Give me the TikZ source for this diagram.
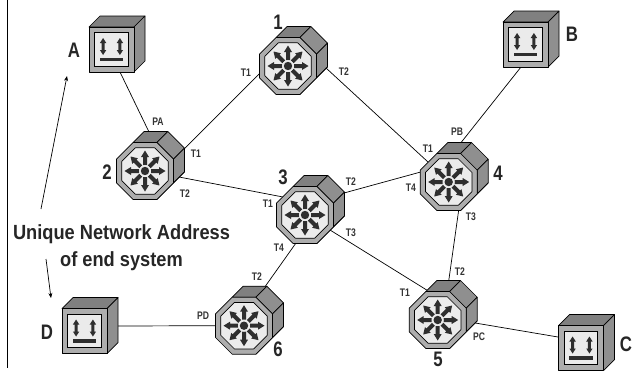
\documentclass[tikz,border=0pt]{standalone}
\usepackage{fontspec}
\setmainfont{Liberation Sans}
\usetikzlibrary{arrows.meta}
\definecolor{facetop}{gray}{0.50}
\definecolor{faceside}{gray}{0.56}
\definecolor{rim}{gray}{0.68}
\definecolor{panel}{gray}{0.92}
\definecolor{ink}{gray}{0.18}
\tikzset{
  x=1pt,y=-1pt,
  anchorpt/.style={circle,inner sep=0pt,minimum size=2pt},
  link/.style={draw=black,line width=0.7pt},
  note/.style={-{Stealth[length=5pt,width=4pt]},draw=black,line width=0.7pt},
  tiny/.style={font=\bfseries\fontsize{11}{11}\selectfont,inner sep=0pt,text=black!80,xscale=.78,transform shape},
  num/.style={font=\bfseries\fontsize{21}{21}\selectfont,inner sep=0pt,text=black!85,xscale=.8,transform shape},
  big/.style={font=\bfseries\fontsize{20.5}{27}\selectfont,inner sep=0pt,text=black!85,align=center,xscale=.89,transform shape},
  facet/.style={draw=black,line width=0.7pt,line join=round},
  router/.pic={
    \path[facet,fill=facetop] (-11.8,-28.5) -- ++(11,-11) -- ++(23.6,0) -- (11.8,-28.5) -- cycle;
    \path[facet,fill=faceside] (11.8,-28.5) -- ++(11,-11) -- ++(16.7,16.7) -- (28.5,-11.8) -- cycle;
    \path[facet,fill=faceside] (28.5,-11.8) -- ++(11,-11) -- ++(0,23.6) -- (28.5,11.8) -- cycle;
    \path[facet,fill=facetop] (28.5,11.8) -- ++(11,-11) -- (11.8,28.5) -- cycle;
    \path[facet,fill=rim] (-11.8,-28.5) -- (11.8,-28.5) -- (28.5,-11.8) -- (28.5,11.8) -- (11.8,28.5) -- (-11.8,28.5) -- (-28.5,11.8) -- (-28.5,-11.8) -- cycle;
    \path[facet,fill=panel] (-9.6,-23.2) -- (9.6,-23.2) -- (23.2,-9.6) -- (23.2,9.6) -- (9.6,23.2) -- (-9.6,23.2) -- (-23.2,9.6) -- (-23.2,-9.6) -- cycle;
    \foreach \a in {0,45,...,315}{
      \fill[ink,rotate=\a] (6,-2) -- (14,-2) -- (14,-4) -- (20.5,0) -- (14,4) -- (14,2) -- (6,2) -- cycle;
    }
    \fill[panel] (0,0) circle (5.8);
    \fill[ink] (0,0) circle (4.2);
  },
  enddevice/.pic={
    \path[facet,fill=facetop] (-22.5,-22.5) -- ++(11,-11) -- ++(45,0) -- (22.5,-22.5) -- cycle;
    \path[facet,fill=faceside] (22.5,-22.5) -- ++(11,-11) -- ++(0,45) -- (22.5,22.5) -- cycle;
    \path[facet,fill=rim] (-22.5,-22.5) rectangle (22.5,22.5);
    \path[draw=black,line width=0.9pt,fill=panel] (-16.7,-16.7) rectangle (16.7,16.7);
    \foreach \x in {-8.4,8.4}{
      \fill[ink] (\x,-11.5) -- (\x+3.2,-6.5) -- (\x+1.5,-6.5) -- (\x+1.5,0.5) -- (\x+3.2,0.5) -- (\x,5.5) -- (\x-3.2,0.5) -- (\x-1.5,0.5) -- (\x-1.5,-6.5) -- (\x-3.2,-6.5) -- cycle;
    }
    \fill[ink] (-11.7,8) rectangle (11.7,11.5);
  }
}
\begin{document}
\begin{tikzpicture}
\useasboundingbox (0,0) rectangle (632,370);
\node[anchorpt] (r1) at (288,66) {};
\node[anchorpt] (r2) at (145,171) {};
\node[anchorpt] (r3) at (305,215) {};
\node[anchorpt] (r4) at (448.7,182) {};
\node[anchorpt] (r5) at (437.7,320) {};
\node[anchorpt] (r6) at (244,325.7) {};
\node[anchorpt] (dA) at (111.5,49.5) {};
\node[anchorpt] (dB) at (525.5,44.5) {};
\node[anchorpt] (dC) at (581,348) {};
\node[anchorpt] (dD) at (84.5,331) {};
\coordinate (railtop) at (7,0);
\coordinate (railbot) at (7,368);
\draw[draw=black,line width=1pt] (railtop) -- (railbot);
\draw[link] ([shift={(39,-22)}]r2.center) -- ([shift={(-28,7)}]r1.center);
\draw[link] ([shift={(38,2)}]r1.center) -- ([shift={(-20.7,-20)}]r4.center);
\draw[link] ([shift={(34,6)}]r2.center) -- ([shift={(-22,-18)}]r3.center);
\draw[link] ([shift={(39,-22)}]r3.center) -- ([shift={(-28,-10)}]r4.center);
\draw[link] ([shift={(-9,28)}]r3.center) -- ([shift={(21,-39)}]r6.center);
\draw[link] ([shift={(25,15)}]r3.center) -- ([shift={(-11,-30)}]r5.center);
\draw[link] ([shift={(10,28)}]r4.center) -- ([shift={(11,-39)}]r5.center);
\draw[link] ([shift={(8.5,22.5)}]dA.center) -- ([shift={(4,-39)}]r2.center);
\draw[link] ([shift={(-4.5,22.5)}]dB.center) -- ([shift={(12,-39)}]r4.center);
\draw[link] ([shift={(33.5,-5)}]dD.center) -- ([shift={(-28,0)}]r6.center);
\draw[link] ([shift={(37.5,3)}]r5.center) -- ([shift={(-23,-11)}]dC.center);
\foreach \n in {r1,r2,r3,r4,r5,r6}{\pic at (\n) {router};}
\foreach \n in {dA,dB,dC,dD}{\pic at (\n) {enddevice};}
\node[big] (title) at (121.5,248) {Unique Network Address\\of end system};
\coordinate (noteup) at (67,76);
\coordinate (notedown) at (51,298);
\coordinate (tailup) at (41,209);
\coordinate (taildown) at (46,259);
\draw[note] (tailup) -- (noteup);
\draw[note] (taildown) -- (notedown);
\node[num] (lA) at (74,50) {A};
\node[num] (lB) at (572,34) {B};
\node[num] (lC) at (626,344) {C};
\node[num] (lD) at (47,332) {D};
\node[num] (n1) at (278,22) {1};
\node[num] (n2) at (107,172) {2};
\node[num] (n3) at (283,177) {3};
\node[num] (n4) at (498,173) {4};
\node[num] (n5) at (438,359) {5};
\node[num] (n6) at (278,349) {6};
\node[tiny] (pa) at (158,122) {PA};
\node[tiny] (pb) at (457,132) {PB};
\node[tiny] (pc) at (479,337) {PC};
\node[tiny] (pd) at (203,316) {PD};
\node[tiny] (t11) at (246,73) {T1};
\node[tiny] (t12) at (344,72) {T2};
\node[tiny] (t21) at (196,154) {T1};
\node[tiny] (t22) at (185,194) {T2};
\node[tiny] (t31) at (268,204) {T1};
\node[tiny] (t32) at (351,182) {T2};
\node[tiny] (t33) at (351,233) {T3};
\node[tiny] (t34) at (279,248) {T4};
\node[tiny] (t41) at (428,149) {T1};
\node[tiny] (t44) at (411,188) {T4};
\node[tiny] (t43) at (471,217) {T3};
\node[tiny] (t52) at (460,272) {T2};
\node[tiny] (t51) at (405,293) {T1};
\node[tiny] (t62) at (257,277) {T2};
\end{tikzpicture}
\end{document}
